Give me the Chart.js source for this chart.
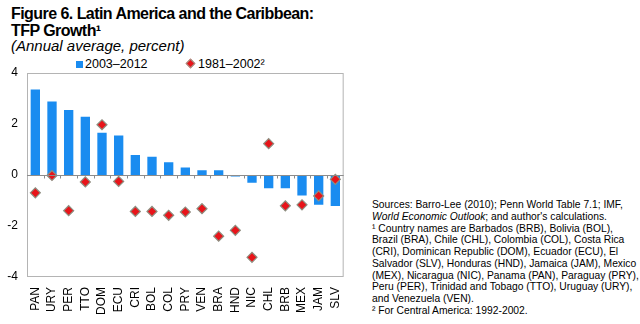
<!doctype html>
<html>
<head>
<meta charset="utf-8">
<script src="https://cdn.jsdelivr.net/npm/chart.js"></script>
<style>
  html, body { margin: 0; padding: 0; background: #fff; }
  body { width: 640px; height: 324px; position: relative; overflow: hidden; font-family: Arial, "Liberation Sans", sans-serif; color: #000; }
  .title { position: absolute; left: 11px; top: 5px; font-size: 16px; font-weight: bold; line-height: 17px; letter-spacing: -0.55px; }
  .subtitle { position: absolute; left: 11px; top: 38px; font-size: 15px; font-style: italic; line-height: 16px; }
  .legend { position: absolute; top: 57px; font-size: 12.5px; line-height: 14px; }
  .legend .sq { display: inline-block; width: 7px; height: 7px; background: #1a8cf0; margin-right: 2px; }
  .legend .dia { display: inline-block; width: 5px; height: 5px; background: #e8141a; border: 1px solid #9a9a8a; transform: rotate(45deg); margin-right: 4px; margin-bottom: 1px; }
  .notes { position: absolute; left: 372px; top: 199px; font-size: 10.3px; line-height: 11.75px; white-space: nowrap; }
  #wrap { position: absolute; left: 0; top: 0; width: 360px; height: 324px; }
</style>
</head>
<body>
<div class="title">Figure 6. Latin America and the Caribbean:<br>TFP Growth¹</div>
<div class="subtitle">(Annual average, percent)</div>
<div class="legend" style="left:76px"><span class="sq"></span>2003–2012</div>
<div class="legend" style="left:187px"><span class="dia"></span>1981–2002²</div>
<div class="notes">
Sources: Barro-Lee (2010); Penn World Table 7.1; IMF,<br>
<i>World Economic Outlook</i>; and author's calculations.<br>
¹ Country names are Barbados (BRB), Bolivia (BOL),<br>
Brazil (BRA), Chile (CHL), Colombia (COL), Costa Rica<br>
(CRI), Dominican Republic (DOM), Ecuador (ECU), El<br>
Salvador (SLV), Honduras (HND), Jamaica (JAM), Mexico<br>
(MEX), Nicaragua (NIC), Panama (PAN), Paraguay (PRY),<br>
Peru (PER), Trinidad and Tobago (TTO), Uruguay (URY),<br>
and Venezuela (VEN).<br>
² For Central America: 1992-2002.
</div>
<div id="wrap"><canvas id="chart"></canvas></div>

<script>
// country codes, sorted by recent TFP growth
const countries = ["PAN","URY","PER","TTO","DOM","ECU","CRI","BOL","COL","PRY","VEN","BRA","HND","NIC","CHL","BRB","MEX","JAM","SLV"];
// 2003–2012 annual average (bars)
const recent = [3.35, 2.88, 2.55, 2.28, 1.66, 1.55, 0.78, 0.72, 0.5, 0.29, 0.19, 0.19, -0.06, -0.3, -0.52, -0.52, -0.8, -1.17, -1.22];
// 1981–2002 annual average (diamonds)
const earlier = [-0.7, -0.02, -1.4, -0.27, 1.97, -0.25, -1.43, -1.43, -1.58, -1.45, -1.32, -2.4, -2.17, -3.23, 1.23, -1.21, -1.17, -0.82, -0.17];
const yTicks = [-4, -2, 0, 2, 4];

const BLUE = "#1a8cf0";
const RED = "#e8141a";

// plot frame, zero line and the little boundary ticks under it
const framePlugin = {
  id: "frame",
  afterDatasetsDraw(chart) {
    const { ctx, chartArea: a, scales: { x, y } } = chart;
    ctx.save();
    ctx.strokeStyle = "#b4b4b4";
    ctx.lineWidth = 1;
    ctx.strokeRect(a.left + 0.5, a.top + 0.5, a.right - a.left - 1, a.bottom - a.top - 1);
    const y0 = Math.round(y.getPixelForValue(0)) + 0.5;
    ctx.strokeStyle = "#8c8c8c";
    ctx.beginPath();
    ctx.moveTo(a.left, y0);
    ctx.lineTo(a.right, y0);
    const step = x.getPixelForValue(1) - x.getPixelForValue(0);
    for (let i = 1; i < countries.length; i++) {
      const px = Math.round(x.getPixelForValue(i) - step / 2) + 0.5;
      ctx.moveTo(px, y0);
      ctx.lineTo(px, y0 + 3);
    }
    ctx.stroke();
    ctx.restore();
  }
};

new Chart(document.getElementById("chart"), {
  data: {
    labels: countries,
    datasets: [
      {
        type: "line",
        label: "1981–2002",
        data: earlier,
        showLine: false,
        pointStyle: "rectRot",
        pointRadius: 5,
        pointBackgroundColor: RED,
        pointBorderColor: "#8e8e80",
        pointBorderWidth: 1.2,
        order: 0
      },
      {
        type: "bar",
        label: "2003–2012",
        data: recent,
        backgroundColor: BLUE,
        categoryPercentage: 1,
        barPercentage: 0.56,
        order: 1
      }
    ]
  },
  options: {
    responsive: true,
    maintainAspectRatio: false,
    animation: false,
    layout: { padding: { top: 73, right: 10, left: 0, bottom: 0 } },
    plugins: { legend: { display: false }, tooltip: { enabled: false } },
    scales: {
      x: {
        grid: { display: false, drawTicks: false },
        border: { display: false },
        ticks: {
          color: "#000",
          font: { family: "Arial, 'Liberation Sans'", size: 12 },
          minRotation: 90,
          maxRotation: 90,
          padding: 10,
          autoSkip: false
        },
        afterFit(s) { s.height = 47; }
      },
      y: {
        min: -4,
        max: 4,
        grid: { display: false, drawTicks: false },
        border: { display: false },
        afterBuildTicks(s) { s.ticks = yTicks.map(v => ({ value: v })); },
        ticks: {
          color: "#000",
          font: { family: "Arial, 'Liberation Sans'", size: 12 },
          padding: 9
        },
        afterFit(s) { s.width = 27; }
      }
    }
  },
  plugins: [framePlugin]
});
</script>
</body>
</html>
